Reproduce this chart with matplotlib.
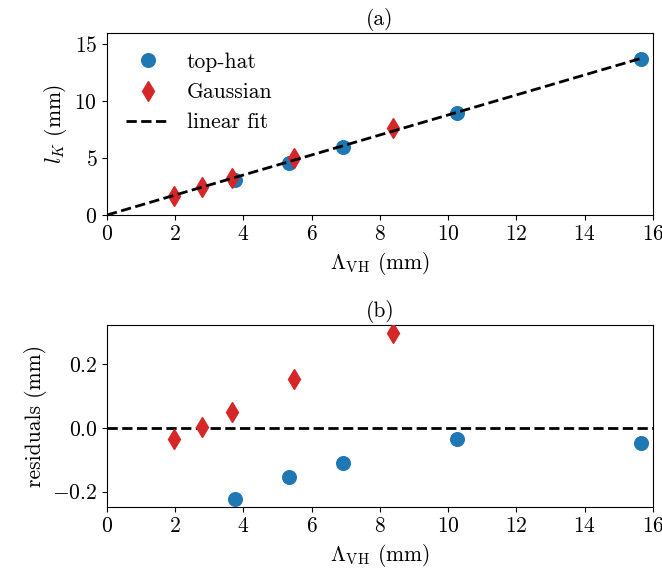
import matplotlib
matplotlib.use("Agg")
import matplotlib.pyplot as plt
import numpy as np

plt.rcParams["font.family"] = "serif"
plt.rcParams["font.serif"] = ["cmr10", "DejaVu Serif"]
plt.rcParams["mathtext.fontset"] = "cm"
plt.rcParams["axes.formatter.use_mathtext"] = True
plt.rcParams["font.size"] = 15.5

# data
tophat_x = [3.74, 5.32, 6.92, 10.26, 15.65]
tophat_l = [3.07, 4.53, 5.98, 8.99, 13.73]
tophat_res = [-0.223, -0.154, -0.109, -0.034, -0.046]

gauss_x = [1.96, 2.79, 3.65, 5.47, 8.37]
gauss_l = [1.69, 2.46, 3.26, 4.97, 7.66]
gauss_res = [-0.034, 0.003, 0.051, 0.153, 0.297]

fit_slope = 0.88
fit_x = [0.0, 15.65]

blue = "#1f77b4"
red = "#d62728"

fig = plt.figure(figsize=(6.62, 5.74), dpi=100)
ax1 = fig.add_axes([0.1616, 0.6254, 0.8248, 0.3171])
ax2 = fig.add_axes([0.1616, 0.1167, 0.8248, 0.3171])

ax1.plot(tophat_x, tophat_l, "o", color=blue, ms=9.8, label="top-hat", zorder=3)
ax1.plot(gauss_x, gauss_l, "d", color=red, ms=10, label="Gaussian", zorder=3)
ax1.plot(fit_x, [fit_slope * v for v in fit_x], "--", color="k", lw=2,
         label="linear fit", zorder=4)
ax1.set_xlim(0, 16)
ax1.set_ylim(0, 16)
ax1.set_yticks([0, 5, 10, 15])
ax1.set_xticks(np.arange(0, 17, 2))
ax1.set_xlabel(r"$\Lambda_{\rm VH}$ (mm)")
ax1.set_ylabel(r"$l_K$ (mm)")
ax1.set_title("(a)", fontsize=15.5)
ax1.legend(loc="upper left", frameon=False, fontsize=15.5)

ax2.plot(tophat_x, tophat_res, "o", color=blue, ms=9.8, zorder=3)
ax2.plot(gauss_x, gauss_res, "d", color=red, ms=10, zorder=3)
ax2.axhline(0, color="k", ls="--", lw=2)
ax2.set_xlim(0, 16)
ax2.set_ylim(-0.248, 0.322)
ax2.set_yticks([-0.2, 0.0, 0.2])
ax2.set_xticks(np.arange(0, 17, 2))
ax2.set_xlabel(r"$\Lambda_{\rm VH}$ (mm)")
ax2.set_ylabel("residuals (mm)")
ax2.set_title("(b)", fontsize=15.5)

fig.savefig("out.png", dpi=100)
